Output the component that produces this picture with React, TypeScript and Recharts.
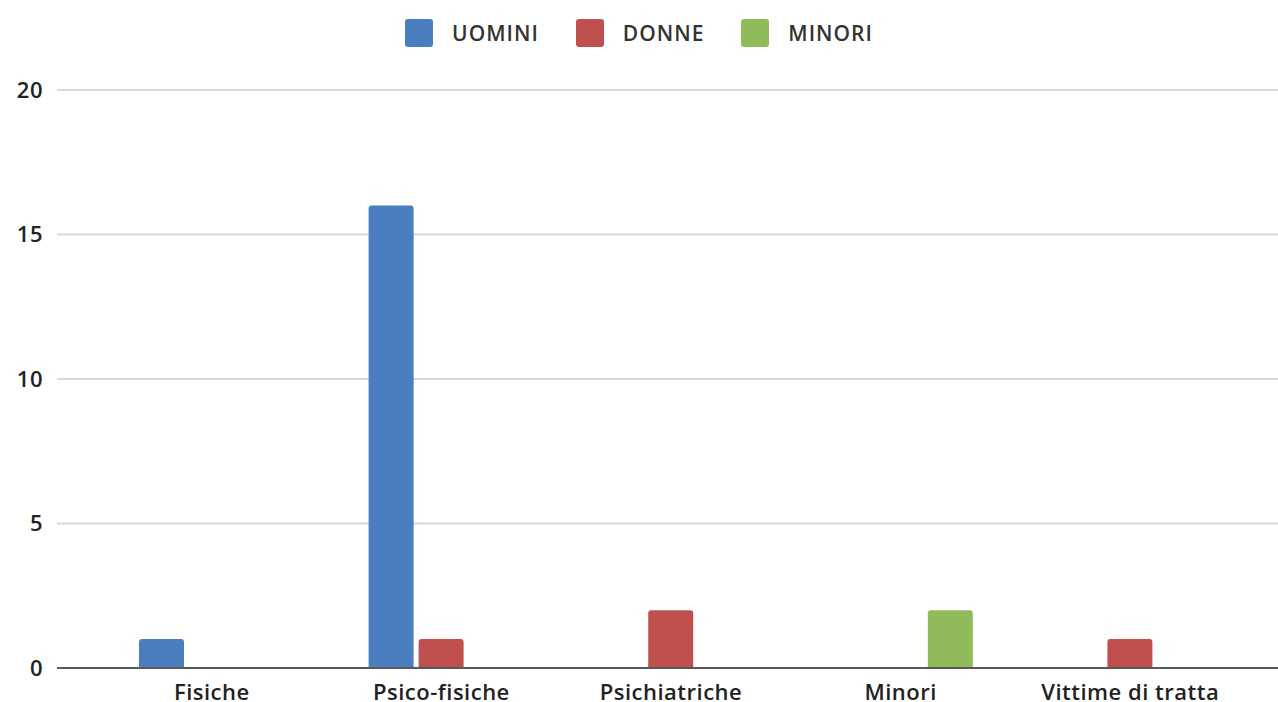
import React from "react";
import { BarChart, Bar, XAxis, YAxis, CartesianGrid, Legend } from "recharts";

const categories = ["Fisiche", "Psico-fisiche", "Psichiatriche", "Minori", "Vittime di tratta"];
const uomini = [1, 16, 0, 0, 0];
const donne = [0, 1, 2, 0, 1];
const minori = [0, 0, 0, 2, 0];
const yTicks = [0, 5, 10, 15, 20];

const seriesInfo = [
  { key: "uomini", name: "UOMINI", color: "#4a7ebf" },
  { key: "donne", name: "DONNE", color: "#c0504d" },
  { key: "minori", name: "MINORI", color: "#8fbb5a" },
];

const data = categories.map((c, i) => ({
  name: c,
  uomini: uomini[i],
  donne: donne[i],
  minori: minori[i],
}));

const FONT = "'Open Sans', 'DejaVu Sans', sans-serif";

const renderLegend = () => (
  <div
    style={{
      height: 90,
      display: "flex",
      justifyContent: "center",
      alignItems: "flex-start",
      paddingTop: 19,
      boxSizing: "border-box",
      fontFamily: FONT,
    }}
  >
    {seriesInfo.map((s, i) => (
      <div
        key={s.key}
        style={{
          display: "flex",
          alignItems: "center",
          marginLeft: i === 0 ? 0 : 37,
        }}
      >
        <div
          style={{
            width: 28,
            height: 28,
            background: s.color,
            borderRadius: 3,
            marginRight: 19,
          }}
        />
        <span style={{ fontSize: 21, fontWeight: 600, color: "#333", letterSpacing: 1 }}>{s.name}</span>
      </div>
    ))}
  </div>
);

export default function App() {
  return (
    <div style={{ position: "absolute", left: 0, top: 0, width: 1278, height: 702, background: "#fff" }}>
      <BarChart
        width={1278}
        height={702}
        data={data}
        margin={{ top: 0, right: 0, bottom: 0, left: 0 }}
        barSize={45}
        barGap={5}
      >
        <Legend verticalAlign="top" align="center" content={renderLegend} height={90} />
        <CartesianGrid horizontal vertical={false} stroke="#d9d9d9" strokeWidth={2} />
        <XAxis
          dataKey="name"
          height={34}
          padding={{ left: 40, right: 33 }}
          tickLine={false}
          axisLine={{ stroke: "#595959", strokeWidth: 2 }}
          tickMargin={10}
          tick={{ fontSize: 22, fontWeight: 600, fill: "#222", fontFamily: FONT, letterSpacing: 0.5 }}
          interval={0}
        />
        <YAxis
          width={57}
          domain={[0, 20]}
          ticks={yTicks}
          axisLine={false}
          tickLine={false}
          tickMargin={8}
          tick={{ fontSize: 22, fontWeight: 600, fill: "#222", fontFamily: FONT, letterSpacing: 0.5 }}
        />
        {seriesInfo.map((s) => (
          <Bar
            key={s.key}
            dataKey={s.key}
            name={s.name}
            fill={s.color}
            radius={[3, 3, 0, 0]}
            isAnimationActive={false}
          />
        ))}
      </BarChart>
    </div>
  );
}
